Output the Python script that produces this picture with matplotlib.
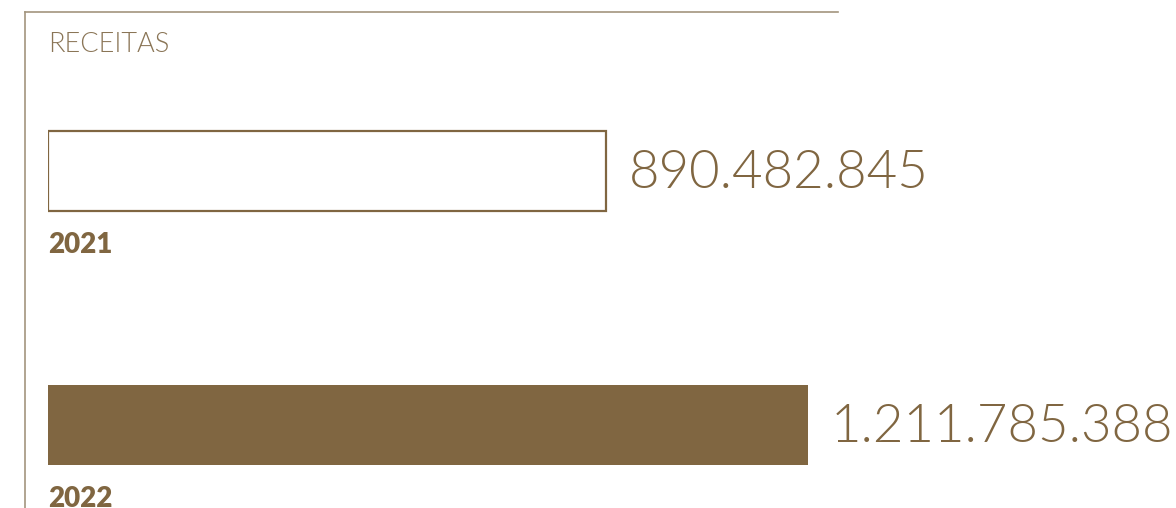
import matplotlib.pyplot as plt
from matplotlib.lines import Line2D

# dados
anos = ['2021', '2022']
receitas = [890482845, 1211785388]
rotulos = ['890.482.845', '1.211.785.388']
titulo = 'RECEITAS'

marrom = '#806641'
borda = '#a3957e'

W, H = 1176, 508
fig = plt.figure(figsize=(W / 100, H / 100), dpi=100)
ax = fig.add_axes([48 / W, 0, 1 - 48 / W, 1])

# escala: barra maior com 760 px
xmax = receitas[1] * (W - 48) / 760
ax.set_xlim(0, xmax)
ax.set_ylim((H - 171) / 254, -171 / 254)

h = 80 / 254
ax.barh(0, receitas[0], height=h, color='white', edgecolor=marrom, linewidth=1.6)
ax.barh(1, receitas[1], height=h, color=marrom, edgecolor=marrom, linewidth=0)

for i, (v, r, a) in enumerate(zip(receitas, rotulos, anos)):
    ax.annotate(r, (v, i), xytext=(16, -2), textcoords='offset points',
                va='center', ha='left', fontsize=38, color=marrom,
                family='Lato', fontweight=300)
    ax.text(0, i + 0.24, a, va='top', ha='left', fontsize=20, color=marrom,
            family='Lato', fontweight='heavy')
ax.axis('off')

# moldura e título
fig.add_artist(Line2D([25 / W, 838 / W], [1 - 11.5 / H, 1 - 11.5 / H],
                      color=borda, lw=1.2, transform=fig.transFigure))
fig.add_artist(Line2D([25 / W, 25 / W], [1 - 11.5 / H, 0],
                      color=borda, lw=1.2, transform=fig.transFigure))
fig.text(48 / W, 1 - 45 / H, titulo, va='center', ha='left', fontsize=19.5,
         color='#8a7556', family='Lato', fontweight=300)

fig.savefig('out.png', dpi=100)
